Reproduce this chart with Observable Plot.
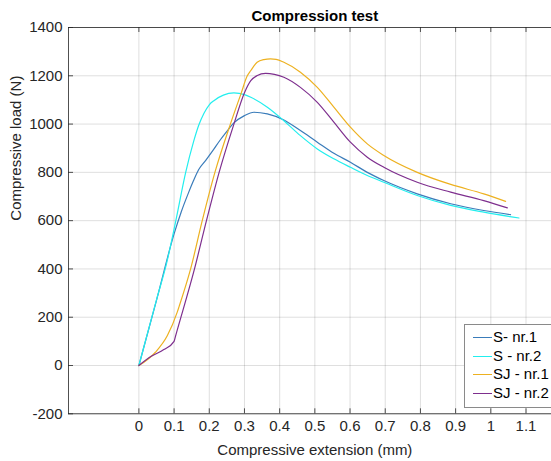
<!DOCTYPE html>
<html><head><meta charset="utf-8">
<script src="https://cdn.jsdelivr.net/npm/d3@7"></script>
<script src="https://cdn.jsdelivr.net/npm/@observablehq/plot@0.6"></script>
<style>
html,body{margin:0;padding:0;background:#fff;overflow:hidden;}
#wrap{position:relative;width:551px;height:461px;overflow:hidden;font-family:"Liberation Sans",Arial,sans-serif;background:#fff;}
#wrap svg{max-width:none !important;position:absolute;left:0;top:0;}
#legend{position:absolute;left:464px;top:324px;width:100px;height:82px;border:1px solid #8a8a8a;background:#fff;}
.lrow{position:absolute;left:0;height:18px;font-size:15px;color:#000;white-space:nowrap;}
.lline{position:absolute;left:8px;top:9px;width:19px;height:0;border-top:1.3px solid;}
.ltext{position:absolute;left:28px;top:0;line-height:18px;}
</style>
</head><body>
<div id="wrap"><div id="legend"></div></div>
<script>
const xTicks = [0, 0.1, 0.2, 0.3, 0.4, 0.5, 0.6, 0.7, 0.8, 0.9, 1, 1.1, 1.2];
const yTicks = [-200, 0, 200, 400, 600, 800, 1000, 1200, 1400];
const seriesNames = ["S- nr.1", "S - nr.2", "SJ - nr.1", "SJ - nr.2"];
const seriesColors = ["#3a7cba", "#22eeee", "#EDB120", "#7E2F8E"];

const s1X = [0, 0.05, 0.1, 0.12, 0.14, 0.155, 0.17, 0.19, 0.21, 0.23, 0.25, 0.27, 0.3, 0.327, 0.365, 0.412, 0.459, 0.507, 0.554, 0.601, 0.649, 0.696, 0.791, 0.886, 0.98, 1.056];
const s1Y = [0, 270, 545, 635, 712, 765, 812, 850, 890, 932, 970, 1005, 1035, 1049, 1042, 1017, 973, 925, 879, 842, 800, 766, 711, 670, 642, 625];

const s2X = [0, 0.05, 0.079, 0.105, 0.133, 0.155, 0.17, 0.185, 0.2, 0.213, 0.24, 0.27, 0.3, 0.318, 0.365, 0.412, 0.459, 0.507, 0.554, 0.601, 0.649, 0.696, 0.791, 0.886, 0.98, 1.08];
const s2Y = [0, 272, 425, 600, 800, 925, 995, 1045, 1080, 1097, 1120, 1129, 1122, 1111, 1070, 1014, 952, 897, 856, 821, 787, 759, 704, 663, 635, 611];

const s3X = [0, 0.047, 0.081, 0.109, 0.114, 0.147, 0.18, 0.216, 0.26, 0.29, 0.308, 0.318, 0.336, 0.355, 0.374, 0.39, 0.412, 0.459, 0.507, 0.554, 0.601, 0.649, 0.696, 0.791, 0.886, 0.98, 1.042];
const s3Y = [0, 55, 124, 221, 243, 400, 600, 800, 1000, 1125, 1200, 1222, 1256, 1267, 1270, 1268, 1256, 1215, 1152, 1070, 987, 918, 870, 800, 750, 711, 680];

const s4X = [0, 0.035, 0.071, 0.1, 0.104, 0.158, 0.192, 0.228, 0.27, 0.3, 0.318, 0.335, 0.36, 0.385, 0.412, 0.459, 0.507, 0.554, 0.601, 0.649, 0.696, 0.791, 0.886, 0.98, 1.047];
const s4Y = [0, 38, 66, 100, 121, 400, 600, 800, 1000, 1130, 1180, 1200, 1210, 1206, 1194, 1152, 1090, 1008, 925, 863, 821, 759, 718, 683, 653];

const seriesX = [s1X, s2X, s3X, s4X];
const seriesY = [s1Y, s2Y, s3Y, s4Y];
const rows = seriesNames.flatMap((name, i) => seriesX[i].map((x, j) => ({name, x, y: seriesY[i][j]})));

const W = 620, H = 461;
const mL = 68, mR = W - 560.7, mT = 27, mB = H - 413.3;
const innerW = W - mL - mR, innerH = H - mT - mB;
const axisColor = "#262626";

const chart = Plot.plot({
  width: W, height: H,
  marginLeft: mL, marginRight: mR, marginTop: mT, marginBottom: mB,
  style: {fontFamily: "Liberation Sans, Arial, sans-serif", fontSize: "15px", color: axisColor, background: "#fff", maxWidth: "none"},
  x: {domain: [-0.2, 1.2]},
  y: {domain: [-200, 1400]},
  color: {domain: seriesNames, range: seriesColors},
  marks: [
    Plot.gridX(xTicks, {stroke: axisColor, strokeOpacity: 0.15}),
    Plot.gridY(yTicks, {stroke: axisColor, strokeOpacity: 0.15}),
    Plot.line(rows, {x: "x", y: "y", z: "name", stroke: "name", strokeWidth: 1.2, curve: "monotone-x"}),
    Plot.frame({stroke: axisColor, strokeWidth: 0.8}),
    Plot.tickX(xTicks, {x: d => d, insetTop: innerH - 5, stroke: axisColor, strokeWidth: 0.8}),
    Plot.tickX(xTicks, {x: d => d, insetBottom: innerH - 5, stroke: axisColor, strokeWidth: 0.8}),
    Plot.tickY(yTicks, {y: d => d, insetRight: innerW - 5, stroke: axisColor, strokeWidth: 0.8}),
    Plot.tickY(yTicks, {y: d => d, insetLeft: innerW - 5, stroke: axisColor, strokeWidth: 0.8}),
    Plot.axisX(xTicks, {tickSize: 0, tickPadding: 7, tickFormat: d => String(d), label: null, fill: axisColor}),
    Plot.axisY(yTicks, {tickSize: 0, tickPadding: 6, tickFormat: d => String(d), label: null, fill: axisColor}),
    Plot.text(["Compression test"], {text: d => d, frameAnchor: "top", lineAnchor: "middle", dy: -11, fontWeight: "bold", fontSize: 15, fill: "#000"}),
    Plot.text(["Compressive extension (mm)"], {text: d => d, frameAnchor: "bottom", lineAnchor: "middle", dy: 36, fontSize: 15, fill: axisColor}),
    Plot.text(["Compressive load (N)"], {text: d => d, frameAnchor: "left", lineAnchor: "middle", dx: -52, rotate: -90, fontSize: 15, fill: axisColor})
  ]
});
const wrap = document.getElementById("wrap");
wrap.insertBefore(chart, wrap.firstChild);

const legend = document.getElementById("legend");
const rowTops = [3, 21.7, 40.3, 59];
seriesNames.forEach((name, i) => {
  const r = document.createElement("div");
  r.className = "lrow";
  r.style.top = rowTops[i] + "px";
  const l = document.createElement("div");
  l.className = "lline";
  l.style.borderTopColor = seriesColors[i];
  const t = document.createElement("div");
  t.className = "ltext";
  t.textContent = name;
  r.appendChild(l); r.appendChild(t);
  legend.appendChild(r);
});
</script>
</body></html>
